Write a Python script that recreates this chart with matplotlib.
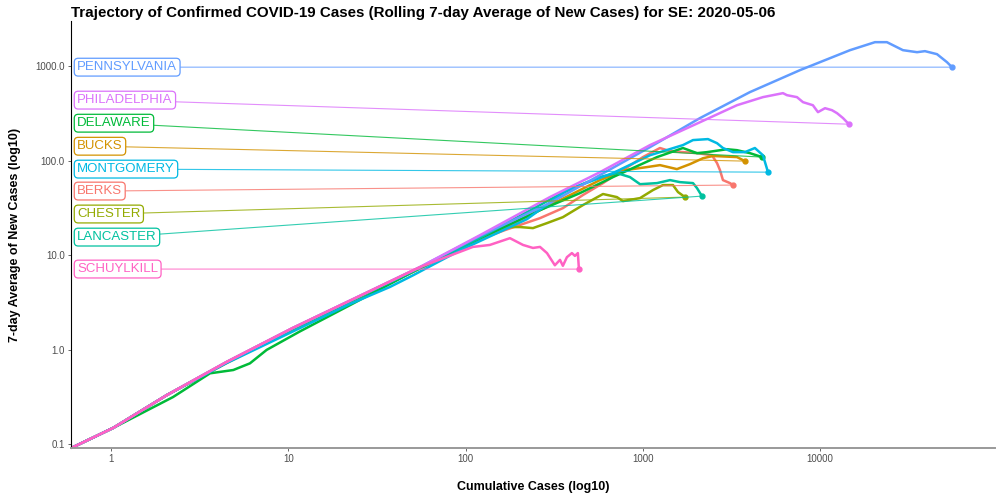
import matplotlib
matplotlib.use("Agg")
import matplotlib.pyplot as plt

plt.rcParams["font.family"] = ["Liberation Sans", "DejaVu Sans"]

# (cumulative cases, rolling 7-day avg of new cases)
berks_x = [0.60, 1.03, 2.07, 4.5, 10.6, 55.3, 106, 167, 263, 354, 459, 596, 772, 1001, 1249, 1424, 2020, 2454, 2620, 2723, 2830, 3100, 3223]
berks_y = [0.091, 0.148, 0.33, 0.74, 1.69, 7.3, 13.4, 18.4, 24.6, 31.4, 43.2, 57.8, 79.3, 109, 136, 126, 120, 114, 94.2, 79.3, 62.2, 57.8, 55.1]

bucks_x = [0.60, 1.03, 2.07, 4.5, 10.6, 55.3, 106, 263, 573, 793, 1054, 1249, 1557, 1844, 2184, 2485, 3395, 3765]
bucks_y = [0.091, 0.148, 0.33, 0.72, 1.62, 7.2, 12.8, 29.9, 62.2, 79.3, 85.4, 89.6, 81.3, 91.8, 106, 112, 109, 98.8]

chester_x = [0.60, 1.03, 2.07, 4.5, 10.6, 55.3, 110, 167, 203, 240, 288, 354, 459, 596, 714, 772, 964, 1141, 1298, 1479, 1578, 1728]
chester_y = [0.091, 0.148, 0.33, 0.73, 1.65, 7.3, 14.3, 19.8, 19.8, 19.3, 21.8, 25.2, 33.8, 44.3, 41.1, 37.3, 40.1, 48.8, 55.1, 55.1, 46.5, 41.1]

delaware_x = [0.60, 1.03, 2.24, 3.62, 4.90, 6.08, 7.55, 11.6, 22.3, 55.3, 121, 263, 442, 678, 1202, 1683, 2020, 2300, 2980, 3395, 4015, 4699]
delaware_y = [0.091, 0.148, 0.314, 0.56, 0.607, 0.714, 0.99, 1.55, 2.95, 7.28, 15.1, 29.9, 45.3, 66.9, 109, 136, 120, 123, 132, 129, 120, 109]

lancaster_x = [0.60, 1.03, 2.07, 4.5, 10.6, 55.3, 121, 341, 471, 573, 714, 846, 964, 1202, 1424, 1619, 1918, 2020, 2154]
lancaster_y = [0.091, 0.148, 0.33, 0.73, 1.66, 7.3, 15.3, 44.2, 57.8, 66.9, 73.8, 66.9, 56.3, 57.8, 62.2, 59.2, 57.8, 51.2, 42.1]

montgomery_x = [0.60, 1.03, 2.07, 4.5, 11.6, 22.0, 37.5, 50.5, 92.9, 222, 373, 678, 1097, 1683, 1918, 2330, 2620, 2830, 3223, 3765, 4285, 4755, 4885, 5080]
montgomery_y = [0.091, 0.148, 0.33, 0.72, 1.68, 3.0, 4.6, 6.1, 11.2, 24.0, 48.7, 73.8, 114, 146, 165, 169, 153, 136, 123, 123, 136, 114, 96.4, 75.5]

penn_x = [0.60, 1.03, 2.07, 4.5, 10.6, 55.3, 121, 299, 1097, 2100, 4015, 7690, 14740, 20380, 23800, 29300, 35200, 39000, 45600, 51900, 55400]
penn_y = [0.091, 0.148, 0.33, 0.74, 1.69, 7.46, 16.0, 35.5, 139, 282, 531, 907, 1477, 1795, 1795, 1477, 1406, 1442, 1340, 1103, 976]

phila_x = [0.60, 1.03, 2.07, 4.5, 10.6, 55.3, 121, 299, 573, 1097, 2100, 3395, 4755, 6170, 6500, 7400, 8000, 9100, 9720, 10650, 11660, 12450, 13460, 14530]
phila_y = [0.091, 0.148, 0.33, 0.74, 1.69, 7.46, 16.3, 41.1, 75.5, 146, 255, 386, 470, 518, 493, 470, 416, 386, 326, 359, 342, 318, 282, 243]

schuylkill_x = [0.60, 1.03, 2.07, 4.5, 10.6, 55.3, 110, 137, 178, 211, 240, 263, 288, 319, 341, 354, 373, 398, 414, 430, 436]
schuylkill_y = [0.091, 0.148, 0.33, 0.74, 1.69, 7.46, 12.2, 12.8, 15.1, 12.8, 11.9, 12.2, 10.5, 7.8, 8.9, 7.7, 9.5, 10.5, 9.8, 10.5, 7.1]

names = ["BERKS", "BUCKS", "CHESTER", "DELAWARE", "LANCASTER",
         "MONTGOMERY", "PENNSYLVANIA", "PHILADELPHIA", "SCHUYLKILL"]
xs = [berks_x, bucks_x, chester_x, delaware_x, lancaster_x,
      montgomery_x, penn_x, phila_x, schuylkill_x]
ys = [berks_y, bucks_y, chester_y, delaware_y, lancaster_y,
      montgomery_y, penn_y, phila_y, schuylkill_y]
colors = ["#F8766D", "#D39200", "#93AA00", "#00BA38", "#00C19F",
          "#00B9E3", "#619CFF", "#DB72FB", "#FF61C3"]
# y position of each repelled label
label_y = [47.6, 142, 27.2, 249, 15.5, 81.3, 976, 437, 7.11]

fig = plt.figure(figsize=(10.05, 4.93), dpi=100)
ax = fig.add_axes([0.0706, 0.0913, 0.9194, 0.8657])

for name, x, y, c, ly in zip(names, xs, ys, colors, label_y):
    ax.plot(x, y, color=c, lw=1.8, solid_capstyle="round", solid_joinstyle="round")
    ax.plot(x[-1], y[-1], "o", color=c, ms=3.5)

for name, x, y, c, ly in zip(names, xs, ys, colors, label_y):
    ax.annotate(name, xy=(x[-1], y[-1]), xytext=(0.645, ly), textcoords="data",
                ha="left", va="center", fontsize=9.5, color=c,
                bbox=dict(boxstyle="round,pad=0.22,rounding_size=0.3",
                          fc="white", ec=c, lw=0.9),
                arrowprops=dict(arrowstyle="-", color=c, lw=0.8, alpha=0.8,
                                shrinkA=0, shrinkB=0))

ax.set_xscale("log")
ax.set_yscale("log")
ax.set_xlim(0.595, 96800)
ax.set_ylim(0.0907, 2993)
ax.set_xticks([1, 10, 100, 1000, 10000])
ax.set_xticklabels(["1", "10", "100", "1000", "10000"])
ax.set_yticks([0.1, 1, 10, 100, 1000])
ax.set_yticklabels(["0.1", "1.0", "10.0", "100.0", "1000.0"])
ax.minorticks_off()
ax.tick_params(colors="#4D4D4D", labelsize=7, length=2.5, width=0.6, pad=2)

for s in ["top", "right"]:
    ax.spines[s].set_visible(False)
ax.spines["left"].set_color("black")
ax.spines["left"].set_linewidth(0.8)
ax.spines["bottom"].set_color("#999999")
ax.spines["bottom"].set_linewidth(1.4)

ax.set_xlabel("Cumulative Cases (log10)", fontsize=9, fontweight="bold", labelpad=12)
ax.set_ylabel("7-day Average of New Cases (log10)", fontsize=9, fontweight="bold", labelpad=10)
ax.set_title("Trajectory of Confirmed COVID-19 Cases (Rolling 7-day Average of New Cases) for SE: 2020-05-06",
             loc="left", fontsize=10.9, fontweight="bold", pad=3)

fig.savefig("out.png", dpi=100)
